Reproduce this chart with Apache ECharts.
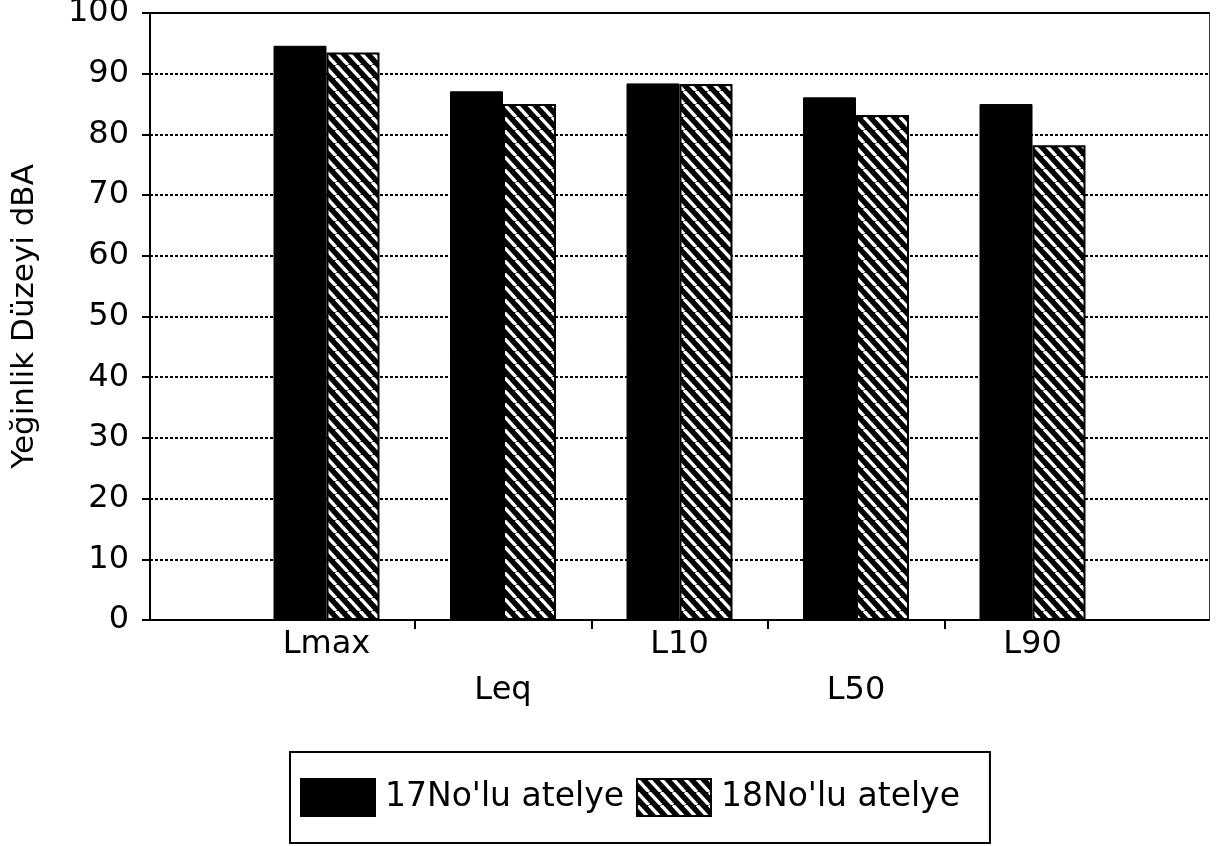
<!DOCTYPE html>
<html>
<head>
<meta charset="utf-8">
<script src="https://cdn.jsdelivr.net/npm/echarts@6/dist/echarts.min.js"></script>
<style>
  html, body { margin: 0; padding: 0; background: #fff; }
  #chart { width: 1219px; height: 846px; }
</style>
</head>
<body>
<div id="chart"></div>
<script>
// Noise level measurements per indicator, two workshops (dBA)
const categories = ['Lmax', 'Leq', 'L10', 'L50', 'L90'];
const atelye17 = [94.6, 87.1, 88.4, 86.1, 85.0];
const atelye18 = [93.5, 85.0, 88.3, 83.2, 78.2];
const seriesNames = ["17No'lu atelye", "18No'lu atelye"];
const yTicks = { min: 0, max: 100, interval: 10 };

// Diagonal hatch fill (top-left to bottom-right stripes)
function makeHatch() {
  const w = 12, h = 13;
  const c = document.createElement('canvas');
  c.width = w; c.height = h;
  const ctx = c.getContext('2d');
  ctx.fillStyle = '#000';
  ctx.fillRect(0, 0, w, h);
  ctx.strokeStyle = '#fff';
  ctx.lineWidth = 3.4;
  for (let k = -1; k <= 1; k++) {
    ctx.beginPath();
    ctx.moveTo(k * w, 0);
    ctx.lineTo(k * w + w, h);
    ctx.stroke();
  }
  return { image: c, repeat: 'repeat' };
}

const FONT = 'DejaVu Sans';
const chart = echarts.init(document.getElementById('chart'), null, { renderer: 'canvas' });

// bars sit at positions 1..5 on a 0..6 axis, ticks fall between groups
const positions = categories.map((_, i) => i + 1);
const tickPositions = categories.slice(0, -1).map((_, i) => i + 1.5);

chart.setOption({
  backgroundColor: '#fff',
  animation: false,
  grid: { left: 150, right: 10, top: 13, bottom: 226, containLabel: false, outerBoundsMode: 'none' },
  legend: {
    left: 290,
    top: 752,
    padding: [26, 30, 26, 10],
    borderColor: '#000',
    borderWidth: 2,
    itemWidth: 74,
    itemHeight: 37,
    itemGap: 12,
    icon: 'rect',
    textStyle: { fontFamily: FONT, fontSize: 33, color: '#000', padding: [0, 0, 0, 5] },
    data: seriesNames
  },
  xAxis: [
    {
      type: 'value',
      min: 0,
      max: 6,
      interval: 0.5,
      position: 'bottom',
      axisLine: { show: true, lineStyle: { color: '#000', width: 2 } },
      axisTick: { show: true, customValues: tickPositions, length: 9, inside: false, lineStyle: { color: '#000', width: 2 } },
      axisLabel: {
        show: true,
        customValues: positions,
        margin: 2,
        fontFamily: FONT,
        fontSize: 32,
        lineHeight: 46,
        color: '#000',
        formatter: function (v) {
          const i = Math.round(v) - 1;
          const name = categories[i] || '';
          return i % 2 === 1 ? '\n' + name : name;
        }
      },
      splitLine: { show: false }
    },
    {
      type: 'value',
      min: 0,
      max: 6,
      position: 'top',
      axisLine: { show: true, onZero: false, lineStyle: { color: '#000', width: 2 } },
      axisTick: { show: false },
      axisLabel: { show: false },
      splitLine: { show: false }
    }
  ],
  yAxis: [
    {
      type: 'value',
      min: yTicks.min,
      max: yTicks.max,
      interval: yTicks.interval,
      name: 'Yeğinlik Düzeyi dBA',
      nameLocation: 'middle',
      nameGap: 110,
      nameMoveOverlap: false,
      nameRotate: 90,
      nameTextStyle: { fontFamily: FONT, fontSize: 31, color: '#000' },
      axisLine: { show: true, onZero: false, lineStyle: { color: '#000', width: 2 } },
      axisTick: { show: true, length: 8, inside: false, lineStyle: { color: '#000', width: 2 } },
      axisLabel: { margin: 21, fontFamily: FONT, fontSize: 32, color: '#000' },
      splitLine: { show: true, lineStyle: { color: '#000', width: 1.8, type: [3, 2] } }
    },
    {
      type: 'value',
      min: yTicks.min,
      max: yTicks.max,
      position: 'right',
      axisLine: { show: true, onZero: false, lineStyle: { color: '#333', width: 1 } },
      axisTick: { show: false },
      axisLabel: { show: false },
      splitLine: { show: false }
    }
  ],
  series: [
    {
      name: seriesNames[0],
      type: 'bar',
      xAxisIndex: 0,
      yAxisIndex: 0,
      barWidth: 53,
      barGap: '0%',
      itemStyle: { color: '#000', borderColor: '#000', borderWidth: 1 },
      data: atelye17.map((v, i) => [positions[i], v])
    },
    {
      name: seriesNames[1],
      type: 'bar',
      xAxisIndex: 0,
      yAxisIndex: 0,
      barWidth: 53,
      barGap: '0%',
      itemStyle: { color: makeHatch(), borderColor: '#000', borderWidth: 2 },
      data: atelye18.map((v, i) => [positions[i], v])
    }
  ]
});
</script>
</body>
</html>
